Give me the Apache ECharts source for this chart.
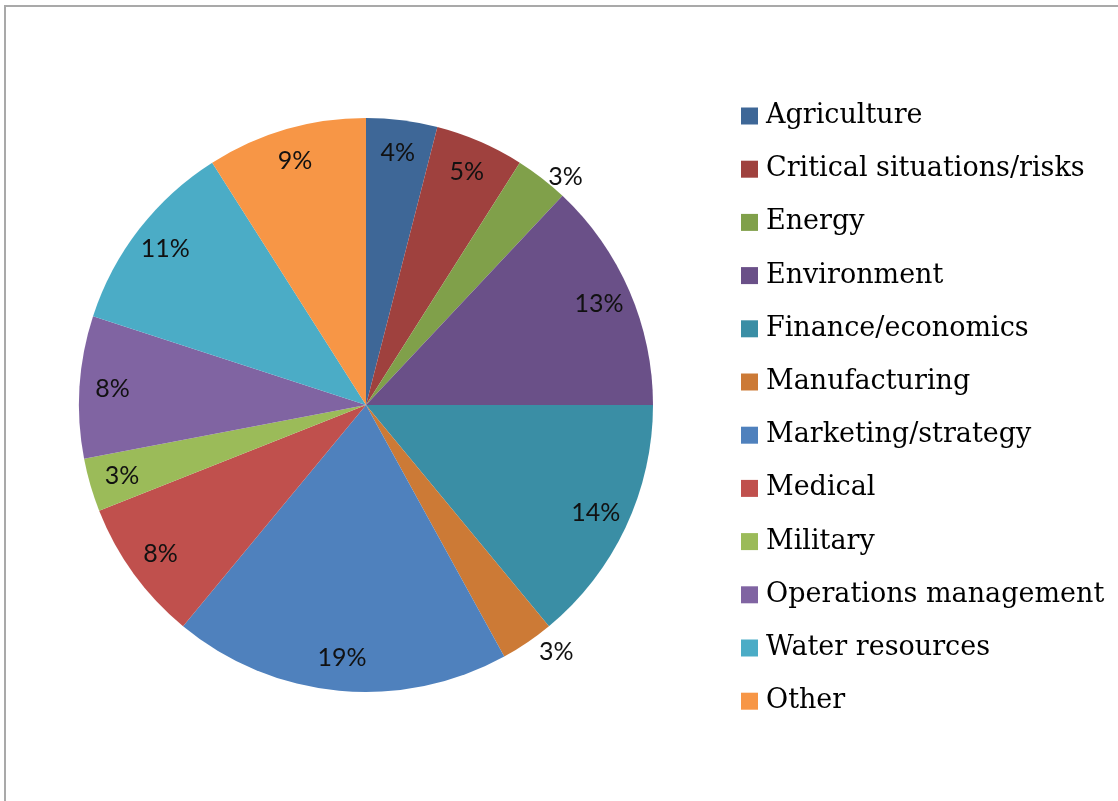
<!DOCTYPE html>
<html>
<head>
<meta charset="utf-8">
<title>Application areas</title>
<script src="https://cdn.jsdelivr.net/npm/echarts@6/dist/echarts.min.js"></script>
<style>
  html, body { margin: 0; padding: 0; background: #ffffff; }
  #chart { width: 1118px; height: 801px; }
</style>
</head>
<body>
<div id="chart"></div>
<script>
// Application areas and their share of the total (percent)
const categories = [
  'Agriculture',
  'Critical situations/risks',
  'Energy',
  'Environment',
  'Finance/economics',
  'Manufacturing',
  'Marketing/strategy',
  'Medical',
  'Military',
  'Operations management',
  'Water resources',
  'Other'
];
const shares = [4, 5, 3, 13, 14, 3, 19, 8, 3, 8, 11, 9];

// Slice colours, one per category
const sliceColors = [
  '#3e6797', '#9f413e', '#80a04a', '#6a5088', '#3a8ea5', '#cc7a36',
  '#4f81bd', '#c0504d', '#9bbb59', '#8064a2', '#4bacc6', '#f79646'
];

// Thin slices whose percentage sits just outside the rim
const outsideLabels = ['Energy', 'Manufacturing'];

const center = [366, 405];
const outerR = 287;

const pieData = categories.map((name, i) => ({
  name,
  value: shares[i],
  itemStyle: { color: sliceColors[i] }
}));

const labelData = categories.map((name, i) => {
  const item = { name, value: shares[i] };
  if (outsideLabels.includes(name)) {
    item.label = { position: 'outside' };
    item.labelLine = { show: false, length: name === 'Manufacturing' ? 12 : 2, length2: 0 };
  }
  return item;
});

const chart = echarts.init(document.getElementById('chart'), null, { renderer: 'canvas' });

chart.setOption({
  animation: false,
  backgroundColor: '#ffffff',
  color: sliceColors,
  graphic: [{
    type: 'rect',
    shape: { x: 5, y: 6, width: 1300, height: 1000 },
    style: { fill: 'none', stroke: '#a9a9a9', lineWidth: 2 },
    silent: true,
    z: 100
  }],
  legend: {
    orient: 'vertical',
    left: 736,
    top: 96,
    data: categories,
    icon: 'rect',
    itemWidth: 17,
    itemHeight: 17,
    itemGap: 23.2,
    selectedMode: false,
    textStyle: {
      fontFamily: '"DejaVu Serif", "Liberation Serif", serif',
      fontSize: 27,
      lineHeight: 30,
      color: '#000000',
      padding: [0, 0, 0, 3]
    }
  },
  series: [
    {
      // the pie itself
      type: 'pie',
      center,
      radius: [0, outerR],
      startAngle: 90,
      clockwise: true,
      data: pieData,
      label: { show: false },
      labelLine: { show: false },
      itemStyle: { borderWidth: 0 },
      emphasis: { disabled: true }
    },
    {
      // transparent ring that carries the percentage labels near the rim
      type: 'pie',
      center,
      radius: [215, outerR],
      startAngle: 90,
      clockwise: true,
      silent: true,
      avoidLabelOverlap: false,
      data: labelData,
      itemStyle: { color: 'rgba(0,0,0,0)', borderWidth: 0 },
      label: {
        show: true,
        position: 'inside',
        formatter: p => p.value + '%',
        fontFamily: 'Lato, "Open Sans", sans-serif',
        fontSize: 25,
        color: '#111111'
      },
      labelLine: { show: false },
      emphasis: { disabled: true }
    }
  ]
});
</script>
</body>
</html>
